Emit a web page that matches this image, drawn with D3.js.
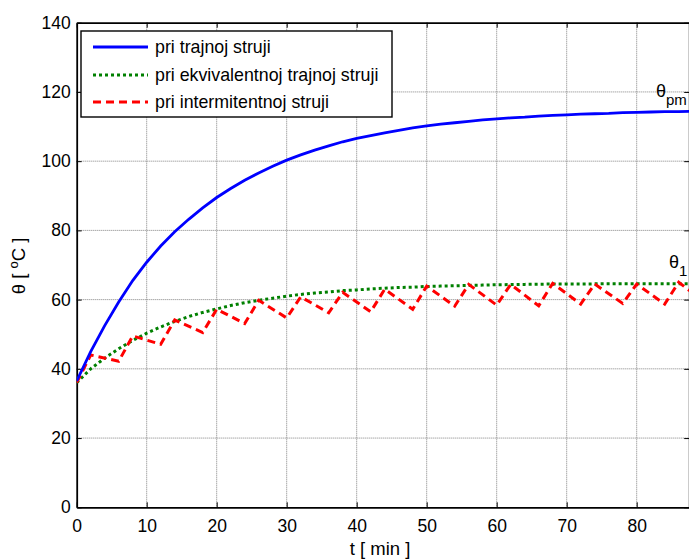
<!DOCTYPE html>
<html>
<head>
<meta charset="utf-8">
<script src="https://cdn.jsdelivr.net/npm/d3@7"></script>
<style>
  body { margin: 0; background: #fff; }
  text { font-family: "Liberation Sans", Arial, sans-serif; fill: #000; }
</style>
</head>
<body>
<div id="graph"></div>
<script>
// data
const tBlue = [0,2,4,6,8,10,12,14,16,18,20,22,24,26,28,30,32,34,36,38,40,42,44,46,48,50,52,54,56,58,60,62,64,66,68,70,72,74,76,78,80,82,84,86,88];
const blueVals = [36.5,45,52.5,59.3,65.5,70.8,75.5,79.6,83.2,86.5,89.5,92.1,94.5,96.6,98.5,100.3,101.8,103.2,104.4,105.6,106.6,107.4,108.2,108.9,109.6,110.2,110.7,111.1,111.5,111.9,112.2,112.5,112.7,113.0,113.2,113.4,113.6,113.7,113.8,114.0,114.1,114.2,114.3,114.3,114.4];

const tGreen = [0,2,4,6,8,10,12,14,16,18,20,22,24,26,28,30,32,34,36,38,40,42,44,46,48,50,52,54,56,58,60,64,68,72,76,80,84,88];
const greenVals = [36,40,43.1,45.8,48.2,50.3,52.1,53.7,55.1,56.3,57.3,58.3,59.1,59.8,60.4,61.0,61.5,61.9,62.2,62.6,62.8,63.1,63.3,63.5,63.6,63.8,63.9,64.0,64.1,64.2,64.3,64.4,64.5,64.5,64.6,64.6,64.6,64.6];

const tRed = [0,2,6,8,12,14,18,20,24,26,30,32,36,38,42,44,48,50,54,56,60,62,66,68,72,74,78,80,84,86,90];
const redVals = [36,44,42.2,49.5,47.1,54.1,50.5,57.2,53.1,59.8,54.7,60.8,56.2,62.1,56.5,63.0,57.2,63.9,58.1,64.4,58.4,64.4,58.2,64.7,58.7,64.5,58.9,64.5,58.7,65.0,58.8];

const xTicks = [0,10,20,30,40,50,60,70,80];
const yTicks = [0,20,40,60,80,100,120,140];
const legendLabels = ["pri trajnoj struji", "pri ekvivalentnoj trajnoj struji", "pri intermitentnoj struji"];

// sizes of the page and the plot box
const W = 689, H = 559;
const box = {left: 76.7, right: 689.2, top: 22.7, bottom: 507.3};

const x = d3.scaleLinear().domain([0, 87.5]).range([box.left, box.right]);
const y = d3.scaleLinear().domain([0, 140]).range([box.bottom, box.top]);

const svg = d3.select("#graph").append("svg")
    .attr("width", W)
    .attr("height", H);

svg.append("defs").append("clipPath").attr("id", "plot")
  .append("rect")
    .attr("x", box.left).attr("y", box.top)
    .attr("width", box.right - box.left).attr("height", box.bottom - box.top);

// grid
svg.append("g").selectAll("line")
    .data(xTicks.filter(d => d > 0))
    .enter().append("line")
    .attr("x1", d => x(d)).attr("x2", d => x(d))
    .attr("y1", box.top).attr("y2", box.bottom)
    .attr("stroke", "#808080").attr("stroke-width", 1)
    .attr("stroke-dasharray", "1,1");
svg.append("g").selectAll("line")
    .data(yTicks.filter(d => d > 0 && d < 140))
    .enter().append("line")
    .attr("x1", box.left).attr("x2", box.right)
    .attr("y1", d => y(d)).attr("y2", d => y(d))
    .attr("stroke", "#808080").attr("stroke-width", 1)
    .attr("stroke-dasharray", "1,1");

// axes (inward ticks, box)
svg.append("g")
    .attr("transform", "translate(0," + box.bottom + ")")
    .call(d3.axisBottom(x).tickValues(xTicks).tickSizeInner(-5).tickSizeOuter(0).tickPadding(12))
    .call(g => g.selectAll("text").attr("font-size", "17.5px").attr("font-family", "Liberation Sans, Arial, sans-serif"));
svg.append("g")
    .attr("transform", "translate(" + box.left + ",0)")
    .call(d3.axisLeft(y).tickValues(yTicks).tickSizeInner(-5).tickSizeOuter(0).tickPadding(6))
    .call(g => g.selectAll("text").attr("font-size", "17.5px").attr("font-family", "Liberation Sans, Arial, sans-serif"));
svg.append("g")
    .attr("transform", "translate(0," + box.top + ")")
    .call(d3.axisTop(x).tickValues(xTicks).tickSizeInner(-5).tickSizeOuter(0).tickFormat(""));
svg.append("g")
    .attr("transform", "translate(" + box.right + ",0)")
    .call(d3.axisRight(y).tickValues(yTicks).tickSizeInner(-5).tickSizeOuter(0).tickFormat(""));
svg.selectAll(".domain").attr("stroke", "#000").attr("stroke-width", 1.8);
svg.selectAll(".tick line").attr("stroke", "#000").attr("stroke-width", 1);

// curves
const plot = svg.append("g").attr("clip-path", "url(#plot)");
const line = d3.line().x(d => x(d[0])).y(d => y(d[1]));

plot.append("path")
    .datum(d3.zip(tGreen, greenVals))
    .attr("fill", "none").attr("stroke", "#008000").attr("stroke-width", 3)
    .attr("stroke-dasharray", "3,3")
    .attr("d", line);
plot.append("path")
    .datum(d3.zip(tRed, redVals))
    .attr("fill", "none").attr("stroke", "#ff0000").attr("stroke-width", 3)
    .attr("stroke-dasharray", "8,5")
    .attr("d", line);
plot.append("path")
    .datum(d3.zip(tBlue, blueVals))
    .attr("fill", "none").attr("stroke", "#0000ff").attr("stroke-width", 2.8)
    .attr("d", line);

// curve labels
const lbl1 = svg.append("text").attr("x", 656).attr("y", 97).attr("font-size", "18px");
lbl1.append("tspan").text("θ");
lbl1.append("tspan").attr("dy", 8).attr("font-size", "15px").text("pm");
const lbl2 = svg.append("text").attr("x", 669).attr("y", 268).attr("font-size", "18px");
lbl2.append("tspan").text("θ");
lbl2.append("tspan").attr("dy", 8).attr("font-size", "15px").text("1");

// legend
const legend = svg.append("g");
legend.append("rect")
    .attr("x", 81).attr("y", 31).attr("width", 311).attr("height", 86)
    .attr("fill", "#fff").attr("stroke", "#000").attr("stroke-width", 1.4);
const legendStyles = [
  {color: "#0000ff", dash: null, w: 2.8},
  {color: "#008000", dash: "3,3", w: 3},
  {color: "#ff0000", dash: "8,5", w: 3}
];
const rowY = [47, 75, 102];
legendLabels.forEach(function(lab, i) {
  legend.append("line")
      .attr("x1", 93).attr("x2", 148)
      .attr("y1", rowY[i]).attr("y2", rowY[i])
      .attr("stroke", legendStyles[i].color)
      .attr("stroke-width", legendStyles[i].w)
      .attr("stroke-dasharray", legendStyles[i].dash);
  legend.append("text")
      .attr("x", 155).attr("y", rowY[i] + 6)
      .attr("font-size", "17.8px")
      .text(lab);
});

// axis titles
svg.append("text")
    .attr("x", 380).attr("y", 555)
    .attr("text-anchor", "middle")
    .attr("font-size", "18.5px")
    .attr("xml:space", "preserve")
    .style("white-space", "pre")
    .text("t [ min ]");
const yl = svg.append("text")
    .attr("transform", "translate(25,266) rotate(-90)")
    .attr("text-anchor", "middle")
    .attr("font-size", "18.5px");
yl.append("tspan").text("θ [ ");
yl.append("tspan").attr("dy", -7).attr("font-size", "13px").text("o");
yl.append("tspan").attr("dy", 7).text("C ]");
</script>
</body>
</html>
